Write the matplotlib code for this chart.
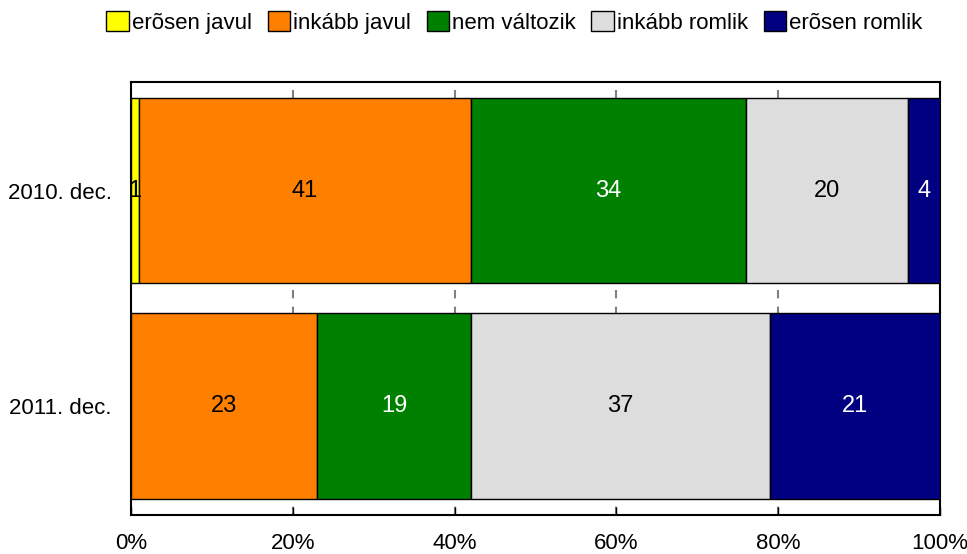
import matplotlib
matplotlib.use("Agg")
import matplotlib.pyplot as plt
import numpy as np
from matplotlib.patches import Patch

plt.rcParams['font.family'] = ['Liberation Sans', 'DejaVu Sans']

categories = ["2011. dec.", "2010. dec."]
series_names = ["erõsen javul", "inkább javul", "nem változik", "inkább romlik", "erõsen romlik"]
values = {
    "erõsen javul": [0, 1],
    "inkább javul": [23, 41],
    "nem változik": [19, 34],
    "inkább romlik": [37, 20],
    "erõsen romlik": [21, 4],
}
colors = ["#FFFF00", "#FF8000", "#008000", "#DDDDDD", "#000080"]
text_colors = ["black", "black", "white", "black", "white"]
xticks = [0, 20, 40, 60, 80, 100]
xticklabels = ["0%", "20%", "40%", "60%", "80%", "100%"]

fig = plt.figure(figsize=(9.67, 5.54), dpi=100)
ax = fig.add_axes([0.1355, 0.0704, 0.8366, 0.7816])

y = np.arange(len(categories))
left = np.zeros(len(categories))
for name, col, tc in zip(series_names, colors, text_colors):
    v = np.array(values[name], dtype=float)
    ax.barh(y, v, left=left, height=0.86, color=col, edgecolor="black",
            linewidth=1.0, zorder=3)
    for yi, (vi, li) in enumerate(zip(v, left)):
        if vi > 0:
            ax.text(li + vi / 2, yi, f"{int(vi)}", ha="center", va="center",
                    color=tc, fontsize=17, zorder=4)
    left += v

ax.set_xlim(0, 100)
ax.set_ylim(-0.505, 1.504)
ax.set_xticks(xticks)
ax.set_xticklabels(xticklabels, fontsize=16)
ax.set_yticks(y)
ax.set_yticklabels(categories, fontsize=16)
ax.tick_params(axis='x', direction='in', length=6, width=1, pad=13, color='black')
ax.tick_params(axis='y', length=0, pad=14)
ax.xaxis.grid(True, color='#808080', linestyle=(0, (4, 4)), linewidth=1.5, zorder=0)
ax.set_axisbelow(True)
for s in ax.spines.values():
    s.set_linewidth(1.5)
    s.set_color('black')

handles = [Patch(facecolor=c, edgecolor='black', linewidth=1.0) for c in colors]
fig.legend(handles, series_names, loc='upper center', bbox_to_anchor=(0.532, 1.0),
           ncol=5, frameon=False, fontsize=16, handlelength=1.0, handleheight=1.0,
           handletextpad=0.15, columnspacing=0.7, borderaxespad=0.1)

fig.savefig("out.png", dpi=100)
